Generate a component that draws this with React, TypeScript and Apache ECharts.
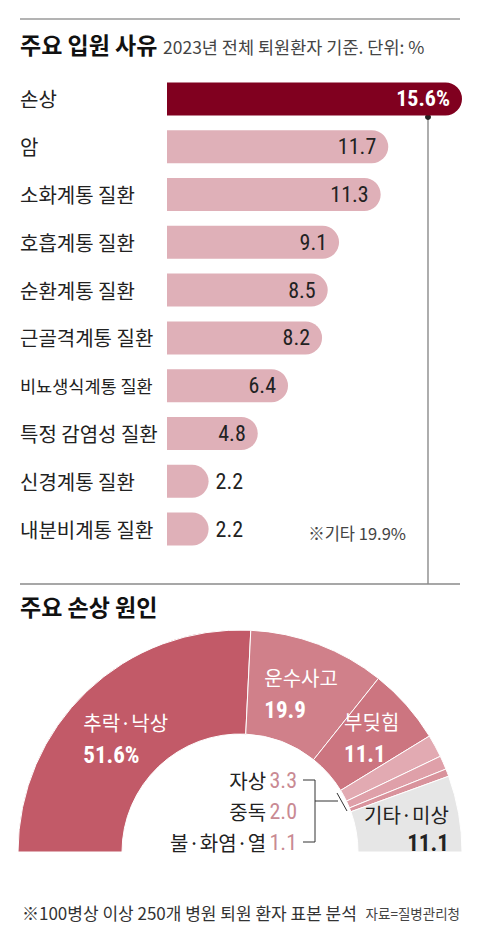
import { useEffect, useRef } from 'react'
import * as echarts from 'echarts'

// 주요 입원 사유 (2023년 전체 퇴원환자 기준, %)
const causes = ['손상', '암', '소화계통 질환', '호흡계통 질환', '순환계통 질환', '근골격계통 질환', '비뇨생식계통 질환', '특정 감염성 질환', '신경계통 질환', '내분비계통 질환']
const shares = [15.6, 11.7, 11.3, 9.1, 8.5, 8.2, 6.4, 4.8, 2.2, 2.2]
const otherShare = 19.9

// 주요 손상 원인 (%)
const injuryTypes = ['추락·낙상', '운수사고', '부딪힘', '자상', '중독', '불·화염·열', '기타·미상']
const injuryShares = [51.6, 19.9, 11.1, 3.3, 2.0, 1.1, 11.1]
const injuryColors = ['#c25a68', '#d0808a', '#cc7580', '#e2aab2', '#dfa0a9', '#d9939c', '#e6e6e6']
const smallSlices = [3, 4, 5]
// label nudges inside the donut, as box padding [top, right, bottom, left]
const labelPads = [[24, 0, 0, 10], [6, 0, 0, 0], [0, 0, 0, 4], [0], [0], [0], [12, 8, 0, 0]]

const KO = "'Noto Sans CJK KR', 'Noto Sans', sans-serif"
const NUM = "'Liberation Sans Narrow', 'Roboto Condensed', 'Liberation Sans', sans-serif"

export default function App() {
  const chartRef = useRef<HTMLDivElement>(null)

  useEffect(() => {
    if (!chartRef.current) return
    const chart = echarts.init(chartRef.current, null, { renderer: 'svg' })

    const bracketTexts = smallSlices.map((idx, i) => ({
      type: 'text',
      x: 297,
      y: 780 + i * 31,
      style: {
        text: `{n|${injuryTypes[idx]}} {v|${injuryShares[idx].toFixed(1)}}`,
        align: 'right',
        verticalAlign: 'middle',
        rich: {
          n: { fontSize: 20, fontFamily: KO, fill: '#222' },
          v: { fontSize: 22, fontFamily: NUM, fill: '#c98a93' }
        }
      }
    }))

    const option: echarts.EChartsOption = {
      animation: false,
      backgroundColor: '#fff',
      grid: { left: 167, right: 18, top: 75, bottom: 387 },
      xAxis: { type: 'value', min: 0, max: 15.6, show: false },
      yAxis: {
        type: 'category',
        data: causes,
        inverse: true,
        axisLine: { show: false },
        axisTick: { show: false },
        axisLabel: {
          align: 'left',
          margin: 147,
          fontSize: 20,
          color: '#222',
          fontFamily: KO,
          // the longest name is set a little smaller so it stays clear of the bar
          formatter: (v: string) => (v.replace(/ /g, '').length > 7 ? `{s|${v}}` : v),
          rich: { s: { fontSize: 17.5, color: '#222', fontFamily: KO } }
        }
      },
      series: [
        {
          type: 'bar',
          silent: true,
          barWidth: 33,
          data: shares.map((v, i) => ({
            value: v,
            itemStyle: { color: i === 0 ? '#80001f' : '#dfb0b8', borderRadius: [0, 16.5, 16.5, 0] },
            label: {
              show: true,
              position: v < 4 ? 'right' : 'insideRight',
              distance: v < 4 ? 7 : 12,
              formatter: i === 0 ? `${v}%` : v.toFixed(1),
              color: i === 0 ? '#fff' : '#222',
              fontWeight: i === 0 ? 'bold' : 'normal',
              fontSize: 22,
              fontFamily: NUM
            }
          }))
        },
        {
          type: 'pie',
          silent: true,
          center: [240, 852],
          radius: [118, 222],
          startAngle: 180,
          endAngle: 0,
          itemStyle: { borderColor: '#fff', borderWidth: 1 },
          labelLine: { show: false },
          label: {
            show: true,
            position: 'inside',
            formatter: (p: any) => `{n|${p.name}}\n{v|${p.value}${p.dataIndex === 0 ? '%' : ''}}`,
            rich: {
              n: { fontSize: 20, fontFamily: KO, color: '#fff', lineHeight: 34, align: 'left' },
              v: { fontSize: 23, fontFamily: NUM, fontWeight: 'bold', color: '#fff', lineHeight: 32, align: 'left' }
            }
          },
          data: injuryTypes.map((name, i) => {
            const item: any = { name, value: injuryShares[i], itemStyle: { color: injuryColors[i] }, label: { padding: labelPads[i] } }
            if (smallSlices.includes(i)) item.label = { show: false }
            if (i === injuryTypes.length - 1) {
              item.label = {
                padding: labelPads[i],
                rich: {
                  n: { fontSize: 20, fontFamily: KO, color: '#222', lineHeight: 30, align: 'right' },
                  v: { fontSize: 23, fontFamily: NUM, fontWeight: 'bold', color: '#222', lineHeight: 28, align: 'right' }
                }
              }
            }
            return item
          })
        }
      ],
      graphic: [
        { type: 'line', shape: { x1: 20, y1: 19, x2: 460, y2: 19 }, style: { stroke: '#9a9a9a', lineWidth: 1.5 } },
        {
          type: 'text', x: 20, y: 44,
          style: { text: '주요 입원 사유', font: `bold 23px ${KO}`, fill: '#111', verticalAlign: 'middle' }
        },
        {
          type: 'text', x: 163, y: 46,
          style: { text: '2023년 전체 퇴원환자 기준. 단위: %', font: `17.5px ${KO}`, fill: '#444', verticalAlign: 'middle' }
        },
        { type: 'line', shape: { x1: 428, y1: 117, x2: 428, y2: 584 }, style: { stroke: '#777', lineWidth: 1.2 } },
        { type: 'circle', shape: { cx: 428, cy: 117, r: 3 }, style: { fill: '#222' } },
        {
          type: 'text', x: 406, y: 533,
          style: { text: `※기타 ${otherShare}%`, font: `16.5px ${KO}`, fill: '#444', align: 'right', verticalAlign: 'middle' }
        },
        { type: 'line', shape: { x1: 20, y1: 584, x2: 460, y2: 584 }, style: { stroke: '#8a8a8a', lineWidth: 1.5 } },
        {
          type: 'text', x: 20, y: 606,
          style: { text: '주요 손상 원인', font: `bold 23px ${KO}`, fill: '#111', verticalAlign: 'middle' }
        },
        ...bracketTexts,
        { type: 'polyline', shape: { points: [[303, 780], [315, 780], [315, 842], [303, 842]] }, style: { stroke: '#333', lineWidth: 1, fill: 'none' } },
        { type: 'line', shape: { x1: 315, y1: 801, x2: 338, y2: 801 }, style: { stroke: '#333', lineWidth: 1 } },
        { type: 'line', shape: { x1: 337, y1: 793, x2: 347, y2: 811 }, style: { stroke: '#333', lineWidth: 1 } },
        {
          type: 'text', x: 22, y: 912,
          style: { text: '※100병상 이상 250개 병원 퇴원 환자 표본 분석', font: `17px ${KO}`, fill: '#333', verticalAlign: 'middle' }
        },
        {
          type: 'text', x: 460, y: 913,
          style: { text: '자료=질병관리청', font: `13.5px ${KO}`, fill: '#444', align: 'right', verticalAlign: 'middle' }
        }
      ] as any
    }

    chart.setOption(option)
    return () => chart.dispose()
  }, [])

  return <div ref={chartRef} style={{ position: 'absolute', left: 0, top: 0, width: 480, height: 940 }} />
}
